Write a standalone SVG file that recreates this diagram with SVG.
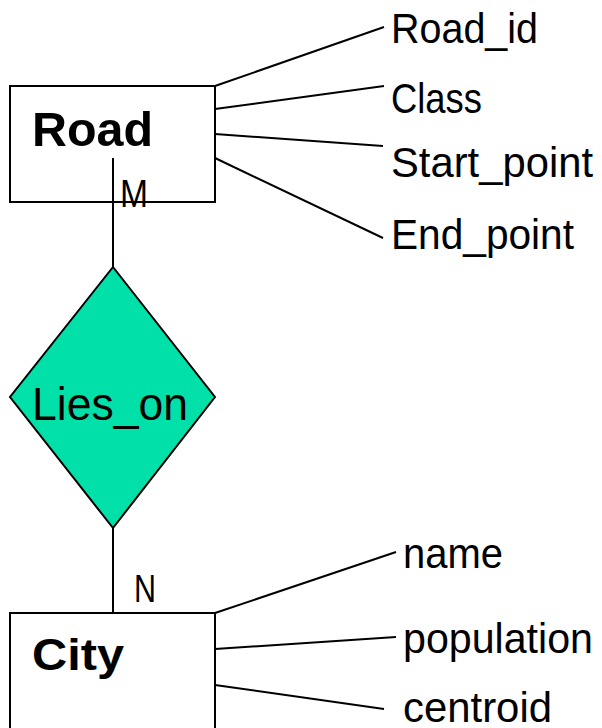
<svg xmlns="http://www.w3.org/2000/svg" width="602" height="728" viewBox="0 0 602 728">
<style>
.box{fill:#ffffff;stroke:#000;stroke-width:2}
.rel{fill:#00E0A8;stroke:#000;stroke-width:2}
.ln{stroke:#000;stroke-width:2;fill:none}
.ent{font-family:"Liberation Sans",Arial,sans-serif;font-weight:bold;fill:#000}
.att{font-family:"Liberation Sans",Arial,sans-serif;font-size:42px;fill:#000}
.card{font-family:"Liberation Sans",Arial,sans-serif;font-size:38px;fill:#000}
</style>
<rect width="602" height="728" fill="#ffffff"/>
<g id="road">
<rect class="box" x="10" y="86" width="205" height="116"/>
<text class="ent" x="32" y="146" font-size="48" textLength="121" lengthAdjust="spacingAndGlyphs">Road</text>
</g>
<g id="city">
<rect class="box" x="10" y="613" width="205" height="130"/>
<text class="ent" x="32" y="670" font-size="45" textLength="92" lengthAdjust="spacingAndGlyphs">City</text>
</g>
<g id="lies_on">
<polygon class="rel" points="113,267 215,397 113,528 10,397"/>
<text class="att" x="32" y="420" style="font-size:46px" textLength="156" lengthAdjust="spacingAndGlyphs">Lies_on</text>
</g>
<g id="attr-road_id"><text class="att" x="391" y="43" textLength="147" lengthAdjust="spacingAndGlyphs">Road_id</text></g>
<g id="attr-class"><text class="att" x="391" y="113" textLength="91" lengthAdjust="spacingAndGlyphs">Class</text></g>
<g id="attr-start_point"><text class="att" x="391" y="177" textLength="202" lengthAdjust="spacingAndGlyphs">Start_point</text></g>
<g id="attr-end_point"><text class="att" x="391" y="249" textLength="183" lengthAdjust="spacingAndGlyphs">End_point</text></g>
<g id="attr-name"><text class="att" x="403" y="568" textLength="100" lengthAdjust="spacingAndGlyphs">name</text></g>
<g id="attr-population"><text class="att" x="403" y="653" textLength="190" lengthAdjust="spacingAndGlyphs">population</text></g>
<g id="attr-centroid"><text class="att" x="403" y="722" textLength="149" lengthAdjust="spacingAndGlyphs">centroid</text></g>
<g id="connectors">
<line class="ln" x1="113" y1="158" x2="113" y2="267"/>
<line class="ln" x1="113" y1="528" x2="113" y2="613"/>
<line class="ln" x1="215" y1="86" x2="384" y2="27"/>
<line class="ln" x1="215" y1="109" x2="384" y2="86"/>
<line class="ln" x1="215" y1="134" x2="383" y2="146"/>
<line class="ln" x1="215" y1="158" x2="383" y2="238"/>
<line class="ln" x1="215" y1="613" x2="396" y2="552"/>
<line class="ln" x1="215" y1="649" x2="396" y2="637"/>
<line class="ln" x1="215" y1="685" x2="384" y2="709"/>
<text class="card" x="120" y="207" textLength="28" lengthAdjust="spacingAndGlyphs">M</text>
<text class="card" x="134" y="602" textLength="22" lengthAdjust="spacingAndGlyphs">N</text>
</g>
</svg>
